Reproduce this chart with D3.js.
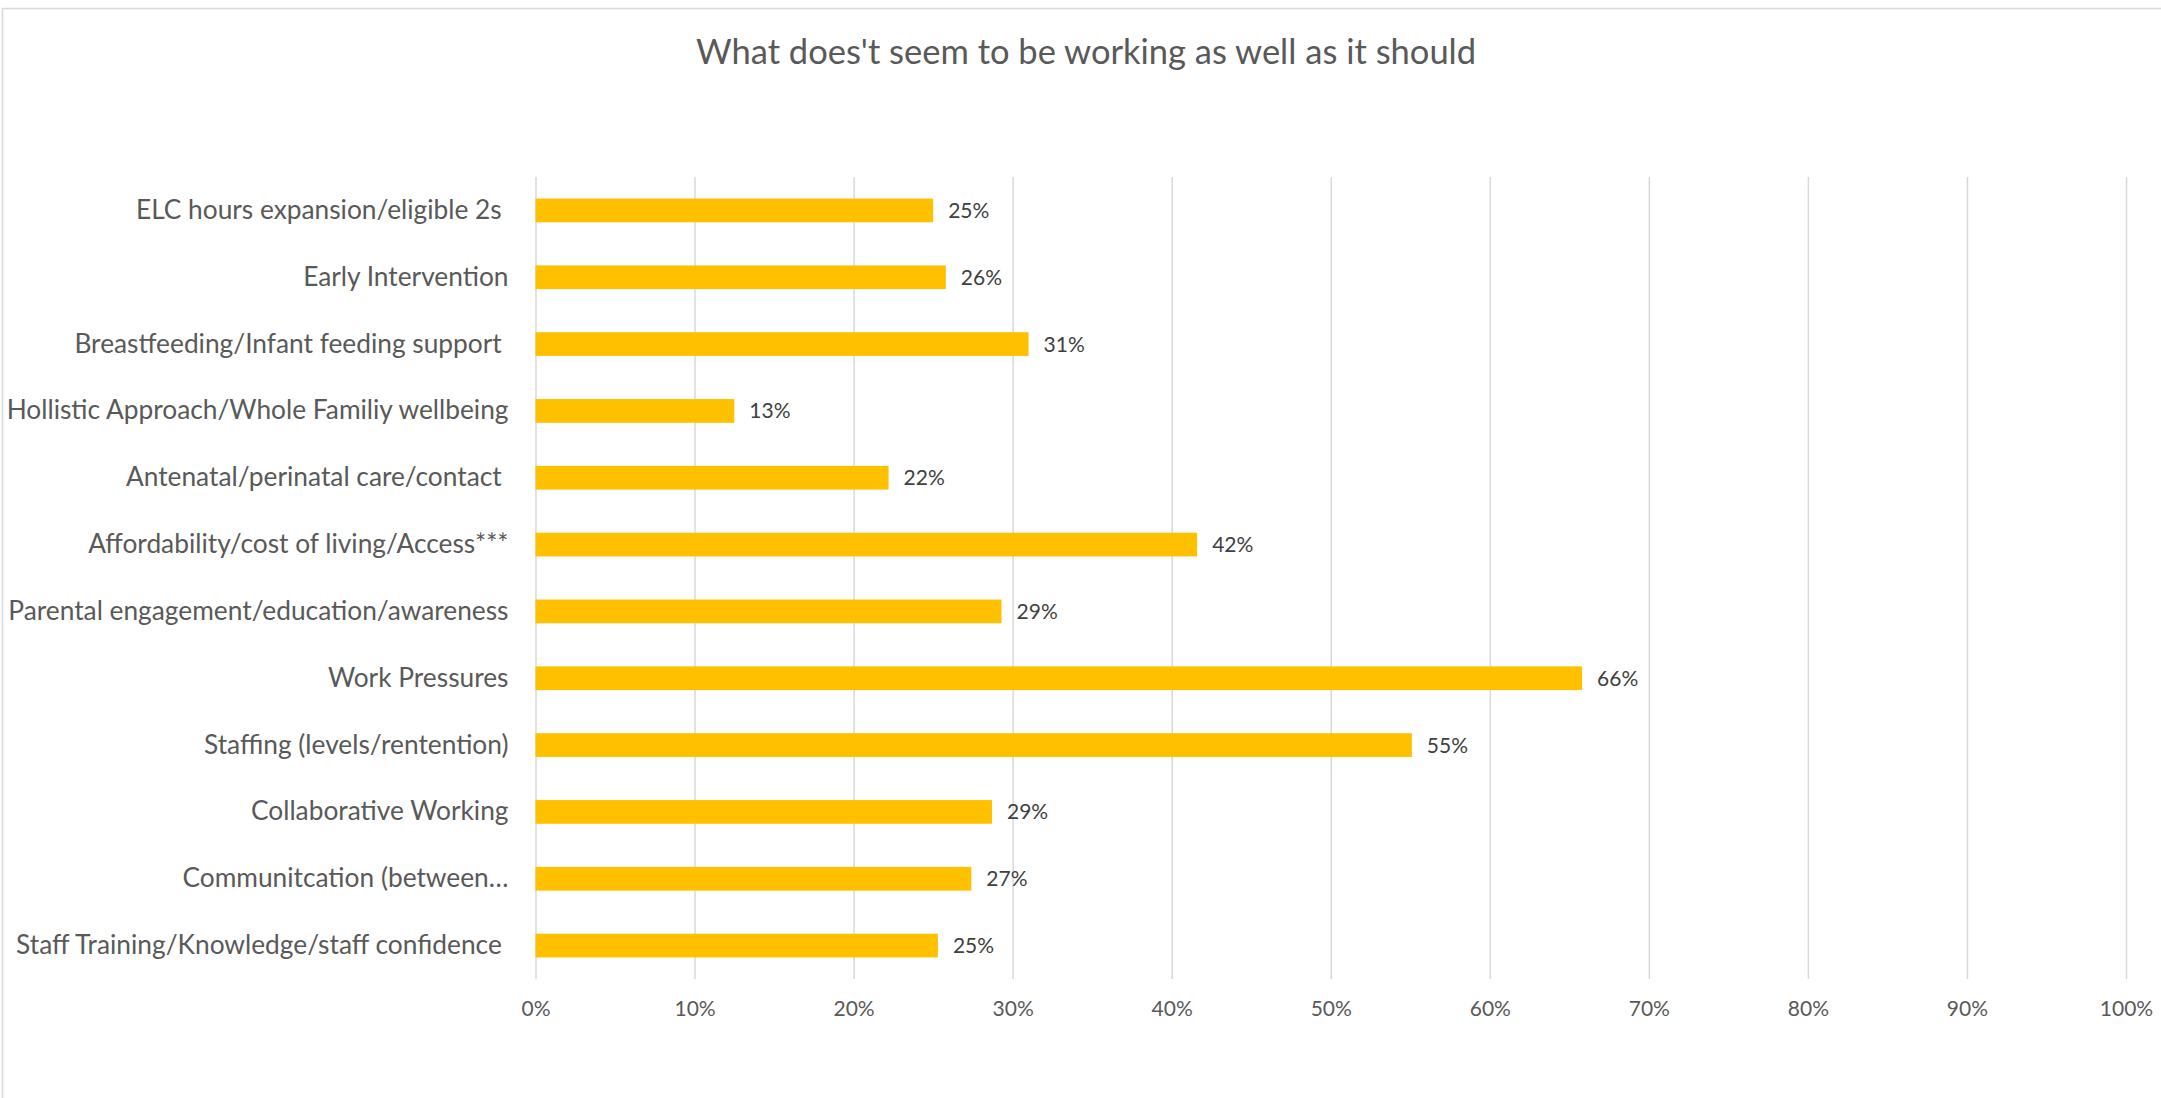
<!DOCTYPE html>
<html><head><meta charset="utf-8">
<script src="https://cdn.jsdelivr.net/npm/d3@7"></script>
<style>
html,body{margin:0;padding:0;background:#fff;}
svg{display:block;}
text{white-space:pre;}
</style></head>
<body>
<script>
const title = "What does't seem to be working as well as it should";
const categories = [
  "ELC hours expansion/eligible 2s ",
  "Early Intervention",
  "Breastfeeding/Infant feeding support ",
  "Hollistic Approach/Whole Familiy wellbeing",
  "Antenatal/perinatal care/contact ",
  "Affordability/cost of living/Access***",
  "Parental engagement/education/awareness",
  "Work Pressures",
  "Staffing (levels/rentention)",
  "Collaborative Working",
  "Communitcation (between…",
  "Staff Training/Knowledge/staff confidence "
];
const values = [0.250, 0.258, 0.310, 0.125, 0.222, 0.416, 0.293, 0.658, 0.551, 0.287, 0.274, 0.253];
const tickValues = [0, 0.1, 0.2, 0.3, 0.4, 0.5, 0.6, 0.7, 0.8, 0.9, 1.0];

const W = 2161, H = 1098;
const m = {left: 535.5, right: W - 2126, top: 177, bottom: H - 979};
const font = "Lato, 'Open Sans', sans-serif";

const svg = d3.select("body").append("svg").attr("width", W).attr("height", H);

// chart area border
svg.append("rect").attr("x", 2.5).attr("y", 8.5).attr("width", W + 10).attr("height", H + 10)
  .attr("fill", "#fff").attr("stroke", "#d9d9d9").attr("stroke-width", 1.5);

svg.append("text").attr("x", 1086).attr("y", 64).attr("text-anchor", "middle")
  .attr("font-family", font).attr("font-size", 34.5).attr("fill", "#595959").text(title);

const x = d3.scaleLinear().domain([0, 1]).range([m.left, W - m.right]);
const y = d3.scaleBand().domain(categories).range([m.top, H - m.bottom]).paddingInner(0.645).paddingOuter(0.3225);

// gridlines + x axis
const xAxis = d3.axisBottom(x).tickValues(tickValues).tickFormat(d3.format(".0%"))
  .tickSize(-(H - m.bottom - m.top)).tickPadding(22);
const gx = svg.append("g").attr("transform", `translate(0,${H - m.bottom})`).call(xAxis);
gx.select(".domain").remove();
gx.selectAll(".tick line").attr("stroke", "#d9d9d9").attr("stroke-width", 1.5);
gx.selectAll(".tick text").attr("font-family", font).attr("font-size", 21).attr("fill", "#595959");

// bars
svg.append("g").selectAll("rect").data(categories).join("rect")
  .attr("x", x(0)).attr("y", d => y(d))
  .attr("width", (d, i) => x(values[i]) - x(0)).attr("height", y.bandwidth())
  .attr("fill", "#FFC000");

// value labels
svg.append("g").selectAll("text").data(categories).join("text")
  .attr("x", (d, i) => x(values[i]) + 15).attr("y", d => y(d) + y.bandwidth() / 2)
  .attr("dy", "0.36em")
  .attr("font-family", font).attr("font-size", 21).attr("fill", "#404040")
  .text((d, i) => d3.format(".0%")(values[i]));

// category axis
const yAxis = d3.axisLeft(y).tickSize(0).tickPadding(27);
const gy = svg.append("g").attr("transform", `translate(${m.left},0)`).call(yAxis);
gy.select(".domain").remove();
gy.selectAll(".tick text").attr("font-family", font).attr("font-size", 26.3).attr("fill", "#595959");
</script>
</body></html>
